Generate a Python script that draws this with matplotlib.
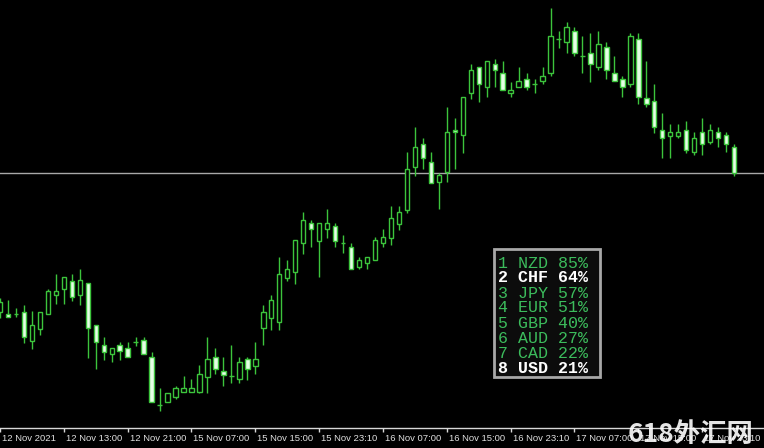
import numpy as np
import matplotlib.pyplot as plt
from matplotlib.patches import Rectangle
from matplotlib.transforms import ScaledTranslation

# H1 candles, price in chart points
opens = [118, 116, 116, 118, 89, 101, 116, 135, 141, 149, 135, 147, 105, 85, 76, 85, 82, 88, 90, 73,
         25, 28, 33, 38, 38, 38, 53, 73, 59, 54, 51, 71, 64, 102, 112, 108, 152, 158, 187, 207,
         189, 201, 204, 187, 183, 163, 167, 170, 187, 192, 206, 220, 263, 286, 268, 248, 258, 300, 295, 337,
         363, 343, 366, 357, 337, 343, 351, 346, 349, 357, 391, 388, 399, 374, 377, 363, 383, 357, 351, 346,
         391, 332, 329, 300, 294, 294, 300, 278, 298, 288, 298, 295, 283]
highs = [132, 130, 122, 125, 119, 118, 141, 156, 153, 156, 161, 147, 105, 93, 82, 88, 88, 93, 93, 78,
         42, 37, 44, 54, 51, 65, 93, 82, 73, 85, 73, 73, 88, 125, 135, 173, 170, 190, 218, 210,
         207, 221, 207, 195, 187, 173, 173, 193, 201, 224, 224, 278, 303, 292, 278, 257, 323, 312, 333, 366,
         363, 369, 371, 369, 348, 363, 357, 351, 363, 422, 399, 408, 403, 394, 397, 399, 388, 374, 354, 397,
         397, 369, 346, 317, 306, 306, 309, 298, 312, 306, 303, 298, 286]
lows = [112, 113, 113, 87, 81, 95, 116, 126, 126, 129, 125, 72, 61, 70, 68, 70, 73, 84, 76, 28,
        19, 28, 31, 38, 38, 37, 37, 56, 44, 47, 47, 50, 56, 85, 100, 100, 149, 146, 176, 183,
        153, 192, 183, 177, 161, 161, 161, 170, 183, 185, 200, 217, 254, 261, 247, 221, 248, 261, 277, 331,
        328, 333, 343, 340, 333, 343, 340, 337, 346, 354, 382, 377, 374, 357, 348, 360, 351, 349, 333, 343,
        326, 323, 297, 272, 272, 292, 277, 275, 275, 286, 283, 278, 254]
closes = [128, 113, 116, 93, 105, 118, 139, 139, 153, 133, 150, 102, 88, 78, 82, 79, 73, 88, 76, 28,
          25, 37, 42, 42, 42, 56, 71, 61, 55, 54, 68, 61, 71, 118, 130, 156, 161, 190, 210, 201,
          207, 207, 189, 187, 161, 170, 173, 190, 193, 212, 218, 261, 283, 272, 247, 255, 298, 298, 333, 360,
          346, 369, 360, 340, 340, 349, 343, 346, 354, 394, 391, 403, 377, 374, 366, 386, 360, 349, 343, 394,
          333, 326, 303, 292, 298, 298, 280, 292, 286, 300, 292, 286, 257]

time_labels = ['12 Nov 2021', '12 Nov 13:00', '12 Nov 21:00', '15 Nov 07:00', '15 Nov 15:00',
               '15 Nov 23:10', '16 Nov 07:00', '16 Nov 15:00', '16 Nov 23:10', '17 Nov 07:00',
               '17 Nov 15:00', '17 Nov 23:10']

currencies = ['NZD', 'CHF', 'JPY', 'EUR', 'GBP', 'AUD', 'CAD', 'USD']
strength = [85, 64, 57, 51, 40, 27, 22, 21]
highlight = ['CHF', 'USD']

green = '#3cc43c'
bear_fill = '#e6ffe6'

fig = plt.figure(figsize=(7.64, 4.48), dpi=100, facecolor='black')
ax = fig.add_axes([0, 20 / 448, 1, 428 / 448], facecolor='black')

o = np.array(opens, float)
h = np.array(highs, float)
l = np.array(lows, float)
c = np.array(closes, float)
x = np.arange(len(o)) - 1

# wicks first, bodies on top
ax.vlines(x, l, h, color=green, lw=1, zorder=2)
body_lo = np.minimum(o, c)
body_h = np.abs(c - o)
fills = [bear_fill if cc < oo else 'black' for oo, cc in zip(o, c)]
ax.bar(x, body_h, bottom=body_lo, width=0.55, color=fills, edgecolor=green, linewidth=1, zorder=3)

# bid line at last close
ax.axhline(c[-1], color='#a8a8a8', lw=1, zorder=1)

ax.set_xlim(-0.75, 94.75)
ax.set_ylim(2, 430)

for s in ['top', 'right', 'left']:
    ax.spines[s].set_visible(False)
ax.spines['bottom'].set_color('#d8d8d8')
ax.spines['bottom'].set_linewidth(1)
ax.set_yticks([])

tick_pos = np.arange(len(time_labels)) * 8 - 1
ax.set_xticks(tick_pos)
ax.set_xticklabels(time_labels, ha='left', fontsize=6.8, family='Liberation Sans', color='#e0e0e0')
ax.tick_params(axis='x', colors='#d8d8d8', length=3, width=1, pad=1, labelcolor='#e0e0e0')
off = ScaledTranslation(2 / 100, 0, fig.dpi_scale_trans)
for lab in ax.get_xticklabels():
    lab.set_transform(lab.get_transform() + off)

# currency strength panel
W, H = 764, 448
fig.patches.append(Rectangle((494 / W, (H - 377) / H), 106 / W, 128 / H, transform=fig.transFigure,
                             facecolor='#0c0c0c', edgecolor='#a8a8a8', linewidth=2, zorder=5))
for i, (cur, val) in enumerate(zip(currencies, strength)):
    yy = 263 + i * 15
    hot = cur in highlight
    fig.text(498 / W, (H - yy) / H, f'{i + 1} {cur} {val}%', family='Liberation Mono', fontsize=12,
             color='white' if hot else '#3cbc5c', weight='bold' if hot else 'normal',
             va='center', ha='left', zorder=6)

# watermark
fig.text(628 / W, (H - 434) / H, '618外汇网', family=['Noto Sans CJK SC', 'DejaVu Sans'], fontsize=19,
         color='white', alpha=0.9, weight='bold', va='center', ha='left', zorder=7)

fig.savefig('out.png', dpi=100, facecolor='black')
